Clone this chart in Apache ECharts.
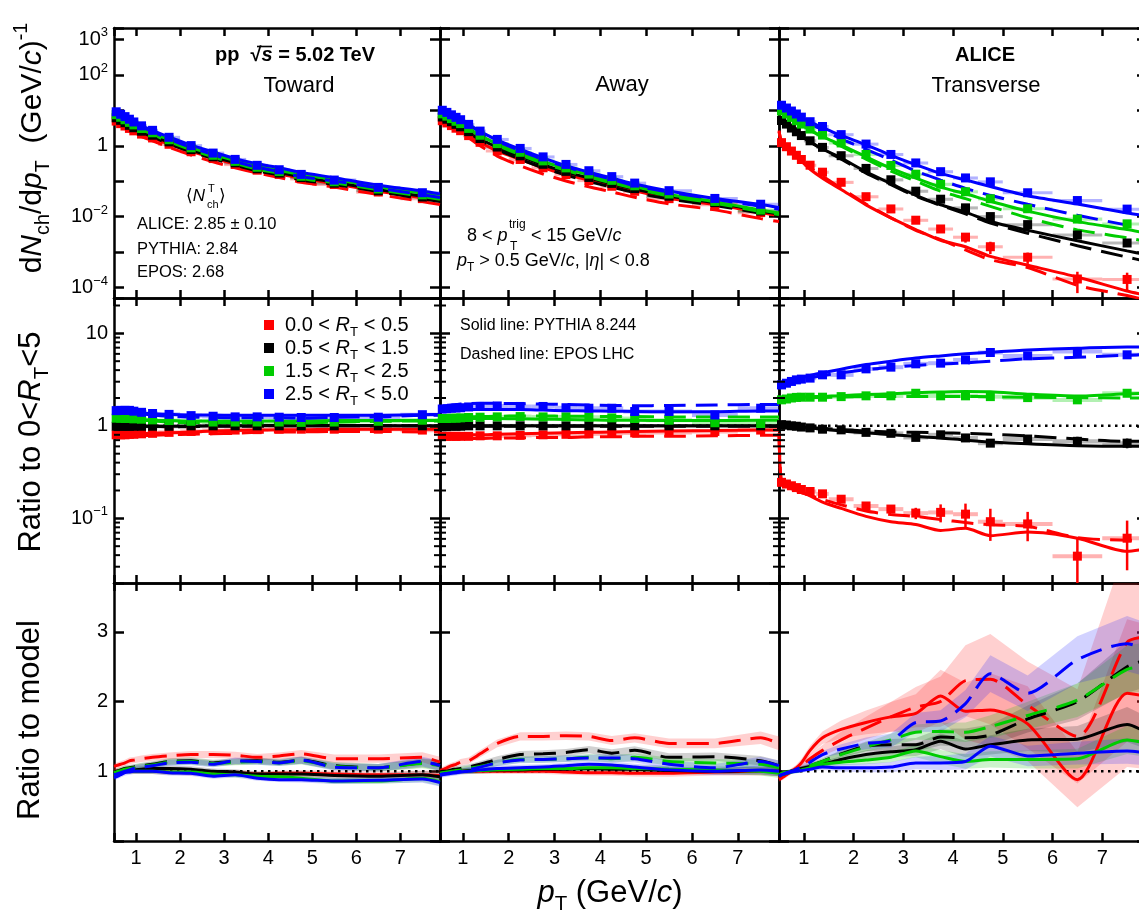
<!DOCTYPE html>
<html><head><meta charset="utf-8">
<script src="https://cdn.jsdelivr.net/npm/echarts@6.0.0/dist/echarts.min.js"></script>
<style>html,body{margin:0;padding:0;background:#fff}#c{width:1139px;height:916px}</style>
</head><body><div id="c"></div>
<script>
// ---------- binning ----------
const ptBins = [0.55,0.65,0.75,0.85,0.95,1.125,1.375,1.75,2.25,2.75,3.25,3.75,4.25,4.75,5.5,6.5,7.5];
const ptHalfWidth = [0.05,0.05,0.05,0.05,0.05,0.125,0.125,0.25,0.25,0.25,0.25,0.25,0.25,0.25,0.5,0.5,0.5];
const ptModel = [0.5,0.55,0.65,0.75,0.85,0.95,1.125,1.375,1.75,2.25,2.75,3.25,3.75,4.25,4.75,5.5,6.5,7.5,7.9];
const xTickLabels = ['1','2','3','4','5','6','7'];
const modelTickLabels = ['1','2','3'];
const specLabelDecades = [3,2,0,-2,-4];
const ratioLabelDecades = [1,0,-1];
const ratioMinorTicks = [0.03,0.04,0.05,0.06,0.07,0.08,0.09,0.2,0.3,0.4,0.5,0.6,0.7,0.8,0.9,2,3,4,5,6,7,8,9,20];
const classNames = ['0.0','0.5','1.5','2.5','5.0'];
const nchLines = ['ALICE: 2.85 \u00b1 0.10','PYTHIA: 2.84','EPOS: 2.68'];

// ---------- TOWARD: spectra ----------
const towSpecData0 = [4.96,4.2,3.6,3.08,2.63,2.13,1.66,1.1,0.679,0.436,0.297,0.205,0.156,0.117,0.081,0.0497,0.0324];
const towSpecData1 = [6.14,5.2,4.46,3.76,3.22,2.57,1.98,1.29,0.78,0.49,0.33,0.225,0.17,0.127,0.088,0.054,0.036];
const towSpecData2 = [7.5,6.35,5.4,4.56,3.87,3.07,2.32,1.48,0.874,0.539,0.363,0.248,0.187,0.138,0.0968,0.0605,0.0414];
const towSpecData3 = [9.05,7.72,6.62,5.59,4.68,3.64,2.72,1.73,1.01,0.622,0.413,0.281,0.211,0.156,0.108,0.067,0.0475];
const towSpecPy0 = [5.5,4.96,4.2,3.6,3.08,2.63,2.13,1.66,1.11,0.693,0.449,0.303,0.214,0.161,0.121,0.0844,0.0523,0.0341,0.028];
const towSpecPy1 = [6.9,6.27,5.2,4.37,3.69,3.16,2.5,1.9,1.24,0.757,0.49,0.333,0.234,0.177,0.132,0.0936,0.0581,0.0379,0.031];
const towSpecPy2 = [8.6,7.81,6.48,5.4,4.56,3.87,3.07,2.32,1.49,0.883,0.561,0.382,0.267,0.203,0.153,0.113,0.0703,0.046,0.038];
const towSpecPy3 = [10.8,9.84,8.13,6.76,5.65,4.68,3.64,2.72,1.77,1.04,0.669,0.435,0.312,0.24,0.177,0.126,0.077,0.0534,0.044];
const towSpecEp0 = [5.1,4.59,3.82,3.21,2.68,2.27,1.81,1.38,0.902,0.548,0.352,0.241,0.171,0.128,0.0936,0.0686,0.0421,0.027,0.022];
const towSpecEp1 = [6.8,6.14,5.1,4.29,3.58,3.04,2.38,1.8,1.13,0.678,0.438,0.289,0.196,0.15,0.109,0.0815,0.0514,0.0321,0.027];
const towSpecEp2 = [8.4,7.58,6.29,5.24,4.38,3.69,2.87,2.13,1.31,0.767,0.486,0.321,0.218,0.167,0.12,0.0905,0.0576,0.0373,0.031];
const towSpecEp3 = [10.4,9.43,7.88,6.62,5.48,4.5,3.43,2.52,1.54,0.894,0.565,0.359,0.246,0.188,0.134,0.102,0.0638,0.0417,0.035];
// TOWARD: ratio to 0<RT<5
const towRatioData0 = [0.80,0.80,0.80,0.81,0.81,0.82,0.83,0.85,0.87,0.89,0.90,0.91,0.92,0.92,0.92,0.92,0.90];
const towRatioData1 = [0.99,0.99,0.99,0.99,0.99,0.99,0.99,0.99,1.0,1.0,1.0,1.0,1.0,1.0,1.0,1.0,1.0];
const towRatioData2 = [1.21,1.21,1.2,1.2,1.19,1.18,1.16,1.14,1.12,1.1,1.1,1.1,1.1,1.09,1.1,1.12,1.15];
const towRatioData3 = [1.46,1.47,1.47,1.47,1.44,1.40,1.36,1.33,1.29,1.27,1.25,1.25,1.24,1.23,1.23,1.24,1.32];
const towRatioPy0 = [0.8,0.8,0.8,0.8,0.8,0.81,0.82,0.83,0.84,0.86,0.88,0.89,0.9,0.91,0.91,0.92,0.92,0.92,0.92];
const towRatioPy1 = [1.01,1.01,1.0,0.99,0.99,0.99,0.99,0.99,0.99,0.99,1.0,1.0,1.01,1.01,1.01,1.01,1.01,1.0,1.0];
const towRatioPy2 = [1.22,1.22,1.22,1.21,1.2,1.19,1.17,1.15,1.14,1.12,1.13,1.13,1.13,1.13,1.13,1.14,1.14,1.14,1.15];
const towRatioPy3 = [1.5,1.5,1.5,1.48,1.46,1.42,1.38,1.35,1.33,1.31,1.31,1.3,1.3,1.3,1.3,1.3,1.3,1.32,1.33];
const towRatioEp0 = [0.76,0.76,0.76,0.76,0.76,0.77,0.78,0.79,0.8,0.81,0.82,0.83,0.85,0.86,0.86,0.87,0.87,0.86,0.86];
const towRatioEp1 = [0.99,0.99,0.99,0.99,0.99,0.99,0.99,0.99,0.98,0.98,0.99,0.99,0.99,1.0,1.0,1.0,1.0,1.0,1.0];
const towRatioEp2 = [1.2,1.2,1.2,1.19,1.18,1.17,1.15,1.13,1.1,1.08,1.08,1.08,1.08,1.08,1.07,1.1,1.12,1.13,1.13];
const towRatioEp3 = [1.47,1.47,1.47,1.46,1.44,1.4,1.35,1.31,1.27,1.24,1.23,1.22,1.22,1.22,1.21,1.24,1.25,1.3,1.3];
// TOWARD: data / model
const towModPy0 = [1.0,1.0,1.0,1.0,1.0,1.0,1.0,1.0,0.99,0.98,0.97,0.98,0.96,0.97,0.97,0.96,0.95,0.95,0.94];
const towModPy1 = [0.97,0.98,1.0,1.02,1.02,1.02,1.03,1.04,1.04,1.03,1.0,0.99,0.96,0.96,0.96,0.94,0.93,0.95,0.92];
const towModPy2 = [0.95,0.96,0.98,1.0,1.0,1.0,1.0,1.0,0.99,0.99,0.96,0.95,0.93,0.92,0.9,0.86,0.86,0.9,0.85];
const towModPy3 = [0.91,0.92,0.95,0.98,0.99,1.0,1.0,1.0,0.98,0.97,0.93,0.95,0.9,0.88,0.88,0.86,0.87,0.89,0.84];
const towModEp0 = [1.07,1.08,1.1,1.12,1.15,1.16,1.18,1.2,1.22,1.24,1.24,1.23,1.2,1.22,1.25,1.18,1.18,1.2,1.13];
const towModEp1 = [0.99,1.0,1.02,1.04,1.05,1.06,1.08,1.1,1.14,1.15,1.12,1.14,1.15,1.13,1.16,1.08,1.05,1.12,1.09];
const towModEp2 = [0.98,0.99,1.01,1.03,1.04,1.05,1.07,1.09,1.13,1.14,1.11,1.13,1.14,1.12,1.15,1.07,1.05,1.11,1.08];
const towModEp3 = [0.95,0.96,0.98,1.0,1.02,1.04,1.06,1.08,1.12,1.13,1.1,1.15,1.14,1.12,1.16,1.06,1.05,1.14,1.08];
const towStat = [0.005,0.005,0.005,0.005,0.005,0.005,0.005,0.005,0.01,0.01,0.01,0.015,0.02,0.02,0.03,0.04,0.05];
const towBand = [0.04,0.04,0.04,0.04,0.04,0.04,0.04,0.04,0.04,0.04,0.04,0.04,0.04,0.04,0.045,0.05,0.05,0.06,0.07];

// ---------- AWAY ----------
const awaSpecData0 = [5.08,4.39,3.7,3.12,2.66,1.93,1.25,0.718,0.411,0.24,0.154,0.105,0.0722,0.0521,0.0323,0.0218,0.0131];
const awaSpecData1 = [6.47,5.59,4.75,4.01,3.42,2.5,1.6,0.92,0.52,0.3,0.19,0.128,0.087,0.062,0.038,0.025,0.0145];
const awaSpecData2 = [7.92,6.84,5.81,4.9,4.21,3.08,1.98,1.15,0.655,0.375,0.238,0.159,0.106,0.0744,0.0437,0.027,0.0154];
const awaSpecData3 = [10.0,8.72,7.44,6.32,5.42,4.0,2.59,1.51,0.842,0.486,0.298,0.198,0.135,0.0887,0.0543,0.0328,0.0225];
const awaSpecPy0 = [5.6,5.08,4.39,3.7,3.12,2.66,1.93,1.25,0.718,0.411,0.24,0.156,0.107,0.0737,0.0537,0.0333,0.022,0.0131,0.0108];
const awaSpecPy1 = [7.2,6.6,5.65,4.75,4.01,3.42,2.48,1.58,0.902,0.51,0.291,0.184,0.123,0.0845,0.0602,0.0376,0.025,0.0144,0.0118];
const awaSpecPy2 = [8.9,8.16,6.98,5.87,4.95,4.21,3.08,1.96,1.13,0.636,0.361,0.229,0.151,0.101,0.0715,0.0424,0.0265,0.0154,0.0127];
const awaSpecPy3 = [11.5,10.5,9.08,7.67,6.45,5.47,4.0,2.54,1.45,0.802,0.458,0.276,0.18,0.124,0.0837,0.0532,0.0328,0.0221,0.0182];
const awaSpecEp0 = [5.4,4.98,4.18,3.43,2.84,2.35,1.68,1.0,0.513,0.274,0.16,0.102,0.07,0.0501,0.0352,0.0231,0.0156,0.00885,0.0073];
const awaSpecEp1 = [7.1,6.47,5.59,4.66,3.89,3.29,2.36,1.45,0.786,0.419,0.24,0.15,0.0977,0.069,0.0477,0.0317,0.0207,0.0126,0.0103];
const awaSpecEp2 = [8.8,8.08,6.91,5.81,4.85,4.13,2.96,1.85,1.03,0.56,0.321,0.202,0.1325,0.0898,0.062,0.0383,0.0241,0.014,0.0115];
const awaSpecEp3 = [11.4,10.4,8.99,7.59,6.38,5.42,3.92,2.44,1.35,0.726,0.415,0.253,0.166,0.113,0.0752,0.0494,0.0312,0.0197,0.0162];
const awaRatioData0 = [0.77,0.77,0.77,0.77,0.77,0.77,0.78,0.78,0.79,0.8,0.81,0.82,0.83,0.84,0.85,0.87,0.9];
const awaRatioData1 = [0.98,0.98,0.99,0.99,0.99,1.0,1.0,1.0,1.0,1.0,1.0,1.0,1.0,1.0,1.0,1.0,1.0];
const awaRatioData2 = [1.2,1.2,1.21,1.21,1.22,1.23,1.24,1.25,1.26,1.25,1.25,1.24,1.22,1.2,1.15,1.08,1.06];
const awaRatioData3 = [1.52,1.53,1.55,1.56,1.57,1.6,1.62,1.64,1.62,1.62,1.57,1.55,1.55,1.43,1.43,1.31,1.55];
const awaRatioPy0 = [0.8,0.8,0.8,0.8,0.8,0.8,0.8,0.8,0.81,0.82,0.83,0.84,0.85,0.86,0.87,0.88,0.89,0.9,0.9];
const awaRatioPy1 = [1,1,1,1,1,1,1,1,1,1,1,1,1,1,1,1,1,1,1];
const awaRatioPy2 = [1.2,1.2,1.2,1.2,1.2,1.2,1.2,1.2,1.2,1.19,1.18,1.17,1.16,1.15,1.15,1.14,1.14,1.15,1.15];
const awaRatioPy3 = [1.5,1.5,1.5,1.5,1.5,1.5,1.5,1.5,1.5,1.5,1.48,1.46,1.45,1.44,1.43,1.42,1.42,1.45,1.45];
const awaRatioEp0 = [0.73,0.73,0.73,0.73,0.73,0.73,0.73,0.73,0.74,0.74,0.75,0.75,0.76,0.76,0.77,0.77,0.78,0.79,0.79];
const awaRatioEp1 = [0.98,0.98,0.98,0.98,0.99,0.99,0.99,0.99,0.99,0.99,0.99,0.99,0.99,0.99,0.99,0.99,0.99,0.99,0.99];
const awaRatioEp2 = [1.2,1.2,1.21,1.22,1.23,1.24,1.25,1.26,1.27,1.28,1.28,1.27,1.27,1.26,1.26,1.25,1.25,1.25,1.25];
const awaRatioEp3 = [1.6,1.62,1.65,1.68,1.7,1.72,1.74,1.75,1.75,1.74,1.72,1.7,1.68,1.66,1.65,1.66,1.68,1.7,1.7];
const awaModPy0 = [1.0,1.0,1.0,1.0,1.0,1.0,1.0,1.0,1.0,1.0,1.0,0.99,0.98,0.98,0.97,0.97,0.99,1.0,1.0];
const awaModPy1 = [0.98,0.98,0.99,1.0,1.0,1.0,1.01,1.01,1.02,1.02,1.03,1.03,1.04,1.03,1.03,1.01,1.0,1.01,1.0];
const awaModPy2 = [0.97,0.97,0.98,0.99,0.99,1.0,1.0,1.01,1.02,1.03,1.04,1.04,1.05,1.05,1.04,1.03,1.02,1.0,0.97];
const awaModPy3 = [0.94,0.95,0.96,0.97,0.98,0.99,1.0,1.02,1.04,1.05,1.06,1.08,1.1,1.09,1.06,1.02,1.0,1.02,1.0];
const awaModEp0 = [1.0,1.02,1.05,1.08,1.1,1.13,1.15,1.25,1.4,1.5,1.5,1.51,1.5,1.44,1.48,1.4,1.4,1.48,1.4];
const awaModEp1 = [0.99,1.0,1.0,1.02,1.03,1.04,1.06,1.1,1.17,1.24,1.25,1.27,1.31,1.26,1.3,1.2,1.21,1.15,1.08];
const awaModEp2 = [0.97,0.98,0.99,1.0,1.01,1.02,1.04,1.07,1.12,1.17,1.17,1.18,1.2,1.18,1.2,1.14,1.12,1.1,1.05];
const awaModEp3 = [0.95,0.96,0.97,0.98,0.99,1.0,1.02,1.06,1.12,1.16,1.17,1.18,1.19,1.19,1.18,1.1,1.05,1.14,1.08];
const awaStat = [0.005,0.005,0.005,0.005,0.005,0.005,0.005,0.01,0.01,0.01,0.015,0.02,0.02,0.03,0.03,0.04,0.06];
const awaBand = [0.04,0.04,0.04,0.04,0.04,0.04,0.04,0.04,0.04,0.04,0.04,0.04,0.04,0.045,0.045,0.05,0.05,0.06,0.07];

// ---------- TRANSVERSE ----------
const traSpecData0 = [1.225,0.94,0.709,0.538,0.41,0.283,0.18,0.0934,0.0367,0.0166,0.00798,0.00452,0.00266,0.00143,0.000722,0.000176,0.000171];
const traSpecData1 = [5.15,4.08,3.15,2.48,1.94,1.38,0.9,0.525,0.23,0.11,0.0525,0.0312,0.0178,0.0101,0.006,0.00306,0.00182];
const traSpecData2 = [9.55,7.8,6.3,5.08,4.08,2.96,2.0,1.2,0.57,0.279,0.158,0.0823,0.0506,0.0321,0.0168,0.0086,0.0063];
const traSpecData3 = [13.85,11.56,9.51,7.85,6.4,4.76,3.49,2.06,1.115,0.569,0.328,0.186,0.124,0.0963,0.0474,0.0286,0.0164];
const traSpecPy0 = [2.7,1.317,0.979,0.709,0.512,0.366,0.218,0.122,0.0584,0.0216,0.00933,0.00436,0.00217,0.00143,0.000761,0.00043,0.0002,0.0000807,0.00006];
const traSpecPy1 = [6.3,5.42,4.21,3.15,2.43,1.87,1.29,0.818,0.449,0.185,0.0859,0.0401,0.0218,0.0135,0.00732,0.00414,0.0021,0.00109,0.00085];
const traSpecPy2 = [11.5,10.05,8.04,6.36,5.08,4.0,2.82,1.82,1.06,0.491,0.2325,0.1225,0.068,0.0444,0.0274,0.0144,0.00729,0.00434,0.0034];
const traSpecPy3 = [16.5,14.58,11.92,9.61,7.85,6.34,4.62,3.29,1.96,1.062,0.537,0.293,0.166,0.109,0.0708,0.0389,0.0227,0.0127,0.0105];
const traSpecEp0 = [2.5,1.361,0.989,0.709,0.517,0.38,0.24,0.138,0.0644,0.0227,0.00933,0.00416,0.00226,0.00116,0.000616,0.00037,0.000117,0.00006,0.000045];
const traSpecEp1 = [6.2,5.31,4.12,3.15,2.43,1.865,1.278,0.789,0.42,0.169,0.0797,0.038,0.0209,0.012,0.00664,0.00343,0.00153,0.000728,0.00055];
const traSpecEp2 = [11.2,9.85,7.88,6.3,4.98,3.92,2.74,1.75,0.968,0.422,0.192,0.101,0.0524,0.0324,0.0196,0.00933,0.00426,0.00256,0.002];
const traSpecEp3 = [16.3,14.58,11.8,9.51,7.62,6.04,4.21,2.81,1.56,0.796,0.395,0.193,0.108,0.0629,0.0401,0.0224,0.011,0.0058,0.0047];
const traRatioData0 = [0.245,0.235,0.225,0.215,0.205,0.195,0.184,0.161,0.136,0.126,0.114,0.116,0.111,0.092,0.087,0.039,0.061];
const traRatioData1 = [1.03,1.02,1.0,0.99,0.97,0.95,0.92,0.905,0.85,0.83,0.75,0.8,0.74,0.65,0.72,0.68,0.65];
const traRatioData2 = [1.91,1.95,2.0,2.03,2.04,2.04,2.04,2.07,2.11,2.11,2.25,2.11,2.11,2.07,2.02,1.91,2.25];
const traRatioData3 = [2.77,2.89,3.02,3.14,3.2,3.28,3.56,3.56,4.13,4.31,4.68,4.76,5.17,6.21,5.71,6.36,5.86];
const traRatioPy0 = [0.83,0.24,0.225,0.21,0.2,0.19,0.175,0.15,0.128,0.105,0.092,0.086,0.074,0.078,0.065,0.071,0.061,0.044,0.047];
const traRatioPy1 = [1.08,1.05,1.03,1.01,0.99,0.97,0.95,0.92,0.88,0.84,0.8,0.77,0.74,0.7,0.67,0.64,0.61,0.6,0.6];
const traRatioPy2 = [1.8,1.9,1.95,2.0,2.02,2.04,2.06,2.08,2.12,2.18,2.22,2.28,2.32,2.35,2.33,2.2,2.1,2.22,2.25];
const traRatioPy3 = [2.5,2.7,2.85,3.0,3.15,3.3,3.5,3.75,4.1,4.6,5.0,5.4,5.7,6.0,6.25,6.6,6.9,7.1,7.1];
const traRatioEp0 = [0.8,0.24,0.225,0.212,0.2,0.19,0.178,0.16,0.14,0.12,0.11,0.105,0.097,0.09,0.085,0.082,0.062,0.058,0.058];
const traRatioEp1 = [1.06,1.03,1.02,1.0,0.99,0.98,0.96,0.94,0.91,0.88,0.86,0.85,0.84,0.83,0.81,0.78,0.72,0.68,0.68];
const traRatioEp2 = [1.8,1.88,1.92,1.96,1.98,2.0,2.02,2.03,2.05,2.07,2.08,2.08,2.08,2.08,2.06,2.04,2.02,2.0,2.0];
const traRatioEp3 = [2.6,2.75,2.85,2.95,3.05,3.15,3.3,3.5,3.75,4.05,4.3,4.5,4.65,4.8,5.0,5.3,5.5,5.8,5.9];
const traModPy0 = [0.9,0.93,0.96,1.0,1.05,1.12,1.3,1.48,1.6,1.7,1.78,1.83,2.08,1.86,1.88,1.68,0.88,2.12,2.07];
const traModPy1 = [0.93,0.95,0.97,1.0,1.02,1.04,1.07,1.1,1.17,1.24,1.28,1.31,1.43,1.32,1.38,1.45,1.46,1.67,1.55];
const traModPy2 = [0.93,0.95,0.97,0.99,1.0,1.02,1.05,1.1,1.13,1.16,1.2,1.29,1.21,1.14,1.17,1.17,1.18,1.45,1.4];
const traModPy3 = [0.93,0.95,0.97,0.99,1.0,1.01,1.03,1.06,1.05,1.05,1.06,1.12,1.12,1.14,1.36,1.22,1.26,1.29,1.26];
const traModEp0 = [0.88,0.9,0.95,1.0,1.04,1.08,1.18,1.3,1.45,1.62,1.78,1.92,2.0,2.3,2.32,1.95,1.5,2.85,2.93];
const traModEp1 = [0.94,0.97,0.99,1.0,1.02,1.04,1.08,1.14,1.25,1.36,1.38,1.38,1.49,1.48,1.52,1.75,2.0,2.5,2.6];
const traModEp2 = [0.94,0.97,0.99,1.0,1.02,1.04,1.08,1.14,1.24,1.35,1.45,1.56,1.57,1.56,1.64,1.8,2.02,2.46,2.5];
const traModEp3 = [0.93,0.95,0.98,1.0,1.03,1.06,1.13,1.24,1.32,1.4,1.44,1.7,1.72,1.97,2.4,2.12,2.6,2.83,2.74];
const traStat0 = [0.01,0.01,0.01,0.01,0.01,0.01,0.02,0.03,0.04,0.07,0.14,0.22,0.3,0.38,0.35,0.6,0.55];
const traStat1 = [0.005,0.005,0.005,0.005,0.005,0.005,0.01,0.01,0.02,0.02,0.03,0.04,0.05,0.06,0.06,0.12,0.12];
const traStat2 = [0.005,0.005,0.005,0.005,0.005,0.005,0.01,0.01,0.01,0.02,0.02,0.03,0.04,0.05,0.05,0.08,0.08];
const traStat3 = [0.005,0.005,0.005,0.005,0.005,0.005,0.01,0.01,0.01,0.02,0.02,0.03,0.03,0.04,0.04,0.06,0.06];
const traBand0 = [0.04,0.04,0.04,0.04,0.04,0.05,0.05,0.06,0.08,0.1,0.12,0.15,0.18,0.22,0.28,0.32,0.45,0.5,0.5];
const traBand1 = [0.03,0.03,0.03,0.03,0.03,0.03,0.03,0.04,0.04,0.05,0.06,0.07,0.08,0.09,0.1,0.11,0.13,0.15,0.15];
const traBand2 = [0.03,0.03,0.03,0.03,0.03,0.03,0.03,0.04,0.04,0.05,0.06,0.07,0.08,0.09,0.1,0.11,0.12,0.14,0.14];
const traBand3 = [0.03,0.03,0.03,0.03,0.03,0.03,0.03,0.04,0.05,0.06,0.07,0.08,0.09,0.1,0.11,0.12,0.13,0.14,0.14];

// ---------- styling ----------
const FONT = '"Liberation Sans", Arial, Helvetica, "DejaVu Sans", sans-serif';
const COLORS = ['#ff0000','#000000','#00cc00','#0000ff'];
const LIGHT = ['rgba(255,0,0,0.3)','rgba(0,0,0,0.28)','rgba(0,204,0,0.3)','rgba(0,0,255,0.3)'];
const BAND = ['rgba(255,40,40,0.22)','rgba(0,0,0,0.18)','rgba(0,190,0,0.2)','rgba(30,30,255,0.2)'];
const X_MIN = 0.5, X_MAX = 7.9;
const SPEC_MIN = 5.13e-5, SPEC_MAX = 2080;
const RATIO_MIN = 0.02, RATIO_MAX = 24.1;
const MOD_MIN = 0, MOD_MAX = 3.7;
const SPEC_SYST = 0.1, RATIO_SYST = 0.05;
const COLS = [{left:114,width:326},{left:440,width:339},{left:779,width:368}];
const ROWS = [{top:28,height:270},{top:298,height:285},{top:583,height:258}];

const regions = [
  {specData:[towSpecData0,towSpecData1,towSpecData2,towSpecData3], specPy:[towSpecPy0,towSpecPy1,towSpecPy2,towSpecPy3], specEp:[towSpecEp0,towSpecEp1,towSpecEp2,towSpecEp3],
   ratioData:[towRatioData0,towRatioData1,towRatioData2,towRatioData3], ratioPy:[towRatioPy0,towRatioPy1,towRatioPy2,towRatioPy3], ratioEp:[towRatioEp0,towRatioEp1,towRatioEp2,towRatioEp3],
   modPy:[towModPy0,towModPy1,towModPy2,towModPy3], modEp:[towModEp0,towModEp1,towModEp2,towModEp3], stat:[towStat,towStat,towStat,towStat], band:[towBand,towBand,towBand,towBand]},
  {specData:[awaSpecData0,awaSpecData1,awaSpecData2,awaSpecData3], specPy:[awaSpecPy0,awaSpecPy1,awaSpecPy2,awaSpecPy3], specEp:[awaSpecEp0,awaSpecEp1,awaSpecEp2,awaSpecEp3],
   ratioData:[awaRatioData0,awaRatioData1,awaRatioData2,awaRatioData3], ratioPy:[awaRatioPy0,awaRatioPy1,awaRatioPy2,awaRatioPy3], ratioEp:[awaRatioEp0,awaRatioEp1,awaRatioEp2,awaRatioEp3],
   modPy:[awaModPy0,awaModPy1,awaModPy2,awaModPy3], modEp:[awaModEp0,awaModEp1,awaModEp2,awaModEp3], stat:[awaStat,awaStat,awaStat,awaStat], band:[awaBand,awaBand,awaBand,awaBand]},
  {specData:[traSpecData0,traSpecData1,traSpecData2,traSpecData3], specPy:[traSpecPy0,traSpecPy1,traSpecPy2,traSpecPy3], specEp:[traSpecEp0,traSpecEp1,traSpecEp2,traSpecEp3],
   ratioData:[traRatioData0,traRatioData1,traRatioData2,traRatioData3], ratioPy:[traRatioPy0,traRatioPy1,traRatioPy2,traRatioPy3], ratioEp:[traRatioEp0,traRatioEp1,traRatioEp2,traRatioEp3],
   modPy:[traModPy0,traModPy1,traModPy2,traModPy3], modEp:[traModEp0,traModEp1,traModEp2,traModEp3], stat:[traStat0,traStat1,traStat2,traStat3], band:[traBand0,traBand1,traBand2,traBand3]}
];

// ---------- axes ----------
function isInt(v){ return Math.abs(v - Math.round(v)) < 1e-6; }
function decadeLabel(v, allowed){
  const l = Math.log10(v), e = Math.round(l);
  if (Math.abs(l - e) > 1e-3 || allowed.indexOf(e) < 0) return '';
  if (e === 0) return '1';
  if (e === 1) return '10';
  return '10{sup|' + (e < 0 ? '\u2212' : '') + Math.abs(e) + '}';
}
const axisLineStyle = {color:'#000', width:2.5};
const grids = [], xAxes = [], yAxes = [];
for (let r = 0; r < 3; r++) for (let c = 0; c < 3; c++) {
  const g = r*3 + c;
  grids.push({left:COLS[c].left, top:ROWS[r].top, width:COLS[c].width, height:ROWS[r].height, containLabel:false, outerBoundsMode:'none'});
  ['bottom','top'].forEach((pos, j) => {
    xAxes.push({gridIndex:g, type:'value', min:X_MIN, max:X_MAX, splitNumber:7, position:pos,
      axisLine:{show:true, onZero:false, lineStyle:axisLineStyle},
      axisTick:{show:true, inside:true, length:8, lineStyle:{color:'#000', width:2.5}},
      splitLine:{show:false},
      axisLabel:{show: r === 2 && j === 0, margin:7, fontSize:20, fontFamily:FONT, color:'#000',
        formatter: v => (isInt(v) && xTickLabels.indexOf(String(Math.round(v))) >= 0) ? String(Math.round(v)) : ''}
    });
  });
  ['left','right'].forEach((pos, j) => {
    const ax = {gridIndex:g, position:pos,
      axisLine:{show:true, onZero:false, lineStyle:axisLineStyle},
      axisTick:{show:true, inside:true, length:10, lineStyle:{color:'#000', width:2.5}},
      splitLine:{show:false},
      axisLabel:{show: c === 0 && j === 0, margin:6, fontSize:20, fontFamily:FONT, color:'#000', lineHeight:26,
        rich:{sup:{fontSize:13, fontFamily:FONT, color:'#000', verticalAlign:'top', lineHeight:13}}}
    };
    if (r === 0) { Object.assign(ax, {type:'log', logBase:10, min:SPEC_MIN, max:SPEC_MAX}); ax.axisLabel.formatter = v => decadeLabel(v, specLabelDecades); }
    else if (r === 1) { Object.assign(ax, {type:'log', logBase:10, min:RATIO_MIN, max:RATIO_MAX}); ax.axisLabel.formatter = v => decadeLabel(v, ratioLabelDecades); }
    else { Object.assign(ax, {type:'value', min:MOD_MIN, max:MOD_MAX, interval:1}); ax.axisLabel.formatter = v => (isInt(v) && modelTickLabels.indexOf(String(Math.round(v))) >= 0) ? String(Math.round(v)) : ''; }
    yAxes.push(ax);
  });
}

// ---------- series builders ----------
function axRef(g){ return {xAxisIndex:2*g, yAxisIndex:2*g}; }
function pointSeries(g, vals, k){
  return Object.assign({type:'scatter', symbol:'rect', symbolSize:9, silent:true, z:6, itemStyle:{color:COLORS[k], opacity:1},
    data: ptBins.map((x,i) => [x, vals[i]])}, axRef(g));
}
function errSeries(g, vals, k, syst, stat){
  return Object.assign({type:'custom', silent:true, z:3, clip:true,
    data: ptBins.map((x,i) => [x, vals[i], ptHalfWidth[i], syst, stat[i]]),
    renderItem: (params, api) => {
      const x = api.value(0), y = api.value(1), hw = api.value(2), s = api.value(3), e = api.value(4);
      const a = api.coord([x - hw, y*(1+s)]), b = api.coord([x + hw, y*(1-s)]);
      const t = api.coord([x, y*(1+e)]), d = api.coord([x, y*(1-e)]);
      let h = b[1] - a[1], yt = a[1];
      if (h < 3) { yt -= (3 - h)/2; h = 3; }
      return {type:'group', children:[
        {type:'rect', shape:{x:a[0], y:yt, width:b[0]-a[0], height:h}, style:{fill:LIGHT[k]}},
        {type:'line', shape:{x1:t[0], y1:t[1], x2:d[0], y2:d[1]}, style:{stroke:COLORS[k], lineWidth:2.5}}
      ]};
    }}, axRef(g));
}
function modelLine(g, vals, k, dashed, w){
  return Object.assign({type:'line', symbol:'none', showSymbol:false, smooth:0.25, silent:true, z:4, clip:true,
    lineStyle:{color:COLORS[k], width:w || 3, type: dashed ? [22,10] : 'solid'},
    data: ptModel.map((x,i) => [x, vals[i]])}, axRef(g));
}
function bandSeries(g, vals, err, k){
  return Object.assign({type:'custom', silent:true, z:1, clip:true, data:[[X_MIN, 1]],
    renderItem: (params, api) => {
      const pts = [];
      for (let i = 0; i < ptModel.length; i++) pts.push(api.coord([ptModel[i], vals[i]*(1+err[i])]));
      for (let i = ptModel.length-1; i >= 0; i--) pts.push(api.coord([ptModel[i], vals[i]*(1-err[i])]));
      return {type:'polygon', shape:{points:pts}, style:{fill:BAND[k]}};
    }}, axRef(g));
}
function unityLine(g){
  return Object.assign({type:'line', symbol:'none', silent:true, z:3,
    lineStyle:{color:'#000', width:2.5, type:[2.5,4.5]}, data:[[X_MIN,1],[X_MAX,1]]}, axRef(g));
}
function minorTicks(g){
  return Object.assign({type:'custom', silent:true, z:7, data: ratioMinorTicks.map(v => [X_MIN, v]),
    renderItem: (params, api) => {
      const v = api.value(1);
      const a = api.coord([X_MIN, v]), b = api.coord([X_MAX, v]);
      return {type:'group', children:[
        {type:'line', shape:{x1:a[0], y1:a[1], x2:a[0]+6, y2:a[1]}, style:{stroke:'#000', lineWidth:2}},
        {type:'line', shape:{x1:b[0]-6, y1:b[1], x2:b[0], y2:b[1]}, style:{stroke:'#000', lineWidth:2}}
      ]};
    }}, axRef(g));
}

const series = [];
regions.forEach((R, c) => {
  const gT = c, gM = 3 + c, gB = 6 + c;
  series.push(unityLine(gM), unityLine(gB), minorTicks(gM));
  for (let k = 0; k < 4; k++) {
    series.push(errSeries(gT, R.specData[k], k, SPEC_SYST, R.stat[k]));
    series.push(modelLine(gT, R.specPy[k], k, false));
    series.push(modelLine(gT, R.specEp[k], k, true));
    series.push(pointSeries(gT, R.specData[k], k));
    series.push(errSeries(gM, R.ratioData[k], k, RATIO_SYST, R.stat[k]));
    series.push(modelLine(gM, R.ratioPy[k], k, false));
    series.push(modelLine(gM, R.ratioEp[k], k, true));
    series.push(pointSeries(gM, R.ratioData[k], k));
    series.push(bandSeries(gB, R.modPy[k], R.band[k], k));
    series.push(bandSeries(gB, R.modEp[k], R.band[k], k));
  }
  for (let k = 0; k < 4; k++) {
    series.push(modelLine(gB, R.modEp[k], k, true));
    series.push(modelLine(gB, R.modPy[k], k, false));
  }
});

// ---------- texts ----------
function rich(fs){
  const lh = Math.round(fs*1.4), s = Math.round(fs*0.66*10)/10;
  return {
    i:{fontSize:fs, fontFamily:FONT, fontStyle:'italic', lineHeight:lh, fill:'#000'},
    bi:{fontSize:fs, fontFamily:FONT, fontStyle:'italic', fontWeight:'bold', lineHeight:lh, fill:'#000'},
    sub:{fontSize:s, fontFamily:FONT, verticalAlign:'bottom', lineHeight:s, fill:'#000'},
    sup:{fontSize:s, fontFamily:FONT, verticalAlign:'top', lineHeight:s, fill:'#000'}
  };
}
function T(x, y, text, fs, o){
  o = o || {};
  const el = {type:'text', x:x, y:y, z:50, silent:true,
    style:{text:text, fontSize:fs, fontFamily:FONT, fontWeight:o.bold ? 'bold' : 'normal', fill:'#000',
      align:o.align || 'left', verticalAlign:'middle', lineHeight:Math.round(fs*1.4), rich:rich(fs)}};
  if (o.rot) { el.rotation = o.rot; }
  return el;
}
const legendY = [325, 348, 371, 394];
const graphic = [
  T(295, 55, 'pp  \u221a{bi|s} = 5.02 TeV', 20, {bold:true, align:'center'}),
  {type:'line', z:50, silent:true, shape:{x1:257, y1:46.5, x2:272, y2:46.5}, style:{stroke:'#000', lineWidth:1.6}},
  T(299, 86, 'Toward', 22, {align:'center'}),
  T(622, 85, 'Away', 22, {align:'center'}),
  T(985, 55, 'ALICE', 20, {bold:true, align:'center'}),
  T(986, 86, 'Transverse', 22, {align:'center'}),
  T(186, 196, '\u27e8{i|N}', 17),
  T(208, 189, 'T', 11),
  T(207, 205, 'ch', 11),
  T(219, 196, '\u27e9', 17),
  T(137, 224, nchLines[0], 16.5),
  T(137, 249, nchLines[1], 16.5),
  T(137, 272, nchLines[2], 16.5),
  T(467, 236, '8 < {i|p}', 18),
  T(509, 225, 'trig', 12),
  T(510, 247, 'T', 12),
  T(531, 236, '< 15 GeV/{i|c}', 18),
  T(457, 261, '{i|p}{sub|T} > 0.5 GeV/{i|c}, |{i|\u03b7}| < 0.8', 18),
  T(460, 326, 'Solid line: PYTHIA 8.244', 16),
  T(460, 355, 'Dashed line: EPOS LHC', 16),
  T(33, 148, 'd{i|N}{sub|ch}/d{i|p}{sub|T}  (GeV/{i|c}){sup|-1}', 30, {align:'center', rot:Math.PI/2}),
  T(31, 442, 'Ratio to 0<{i|R}{sub|T}<5', 31, {align:'center', rot:Math.PI/2}),
  T(30, 720, 'Ratio to model', 31, {align:'center', rot:Math.PI/2}),
  T(610, 893, '{i|p}{sub|T} (GeV/{i|c})', 31, {align:'center'})
];
for (let k = 0; k < 4; k++) {
  graphic.push({type:'rect', z:50, silent:true, shape:{x:264, y:legendY[k]-5, width:10, height:10}, style:{fill:COLORS[k]}});
  graphic.push(T(285, legendY[k], classNames[k] + ' < {i|R}{sub|T} < ' + classNames[k+1], 20));
}

const chart = echarts.init(document.getElementById('c'), null, {renderer:'canvas'});
chart.setOption({
  backgroundColor:'#fff', animation:false,
  grid:grids, xAxis:xAxes, yAxis:yAxes, series:series, graphic:graphic
});
</script></body></html>
